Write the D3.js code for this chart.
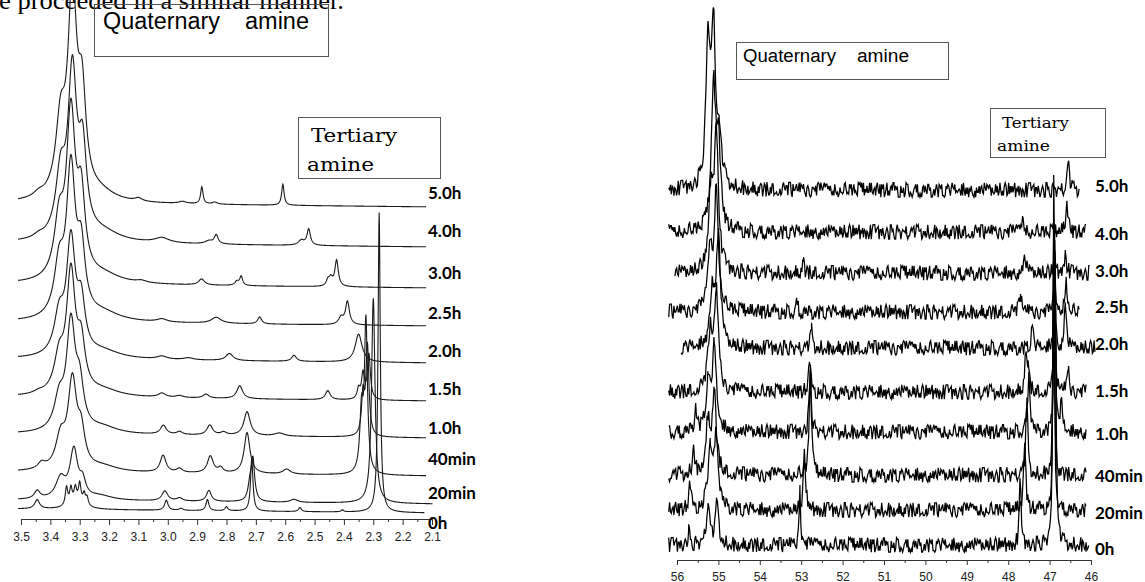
<!DOCTYPE html>
<html>
<head>
<meta charset="utf-8">
<script src="https://cdn.jsdelivr.net/npm/d3@7/dist/d3.min.js"></script>
<style>
  body { margin: 0; background: #fff; }
  svg { display: block; }
</style>
</head>
<body>
<svg id="chart" width="1145" height="582"></svg>
<script>
// ---- data ----
let timeLabels = ["5.0h", "4.0h", "3.0h", "2.5h", "2.0h", "1.5h", "1.0h", "40min", "20min", "0h"];

// 1H spectra (left), ppm axis
let hTicks = [3.5, 3.4, 3.3, 3.2, 3.1, 3.0, 2.9, 2.8, 2.7, 2.6, 2.5, 2.4, 2.3, 2.2, 2.1];
let hOffsets = [306, 266, 225, 187, 150, 112, 75, 37, 9, 0];   // stacking, intensity units
let hEnds = [2.12, 2.12, 2.12, 2.12, 2.12, 2.12, 2.12, 2.12, 2.098, 2.126];
// peaks per trace: [ppm, height, half width]
let hPeaks = [
  [[3.325, 200, 0.018], [3.365, 70, 0.02], [3.292, 90, 0.016], [3.23, 8, 0.06], [3.44, 4, 0.02], [3.10, 3, 0.015],
   [2.95, 2, 0.015], [2.884, 17, 0.005], [2.84, 2, 0.01], [2.608, 21, 0.005]],
  [[3.325, 160, 0.018], [3.365, 60, 0.02], [3.29, 80, 0.016], [3.22, 9, 0.07], [3.44, 3, 0.02], [3.02, 5, 0.03],
   [2.835, 9, 0.008], [2.86, 3, 0.015], [2.52, 16, 0.007], [2.545, 5, 0.012]],
  [[3.33, 160, 0.018], [3.37, 55, 0.02], [3.295, 75, 0.016], [3.22, 8, 0.07], [3.09, 2, 0.02], [2.885, 6, 0.012],
   [2.75, 9, 0.006], [2.765, 4, 0.008], [2.425, 26, 0.007], [2.445, 8, 0.008], [2.455, 5, 0.006]],
  [[3.33, 145, 0.018], [3.37, 50, 0.02], [3.295, 62, 0.016], [3.22, 8, 0.07], [3.02, 3, 0.02], [2.835, 6, 0.02],
   [2.687, 7, 0.008], [2.388, 23, 0.008], [2.41, 7, 0.01]],
  [[3.33, 112, 0.018], [3.37, 38, 0.02], [3.295, 48, 0.016], [3.22, 7, 0.07], [3.02, 3, 0.02], [2.93, 2, 0.02],
   [2.79, 7, 0.015], [2.57, 6, 0.01], [2.35, 28, 0.014]],
  [[3.33, 118, 0.018], [3.37, 34, 0.02], [3.295, 45, 0.016], [3.22, 6, 0.07], [3.44, 2, 0.02], [3.02, 4, 0.015],
   [2.96, 2, 0.015], [2.87, 4, 0.012], [2.755, 13, 0.012], [2.455, 9, 0.01], [2.315, 45, 0.006], [2.335, 25, 0.006],
   [2.35, 10, 0.006]],
  [[3.33, 105, 0.018], [3.37, 30, 0.02], [3.30, 40, 0.016], [3.22, 6, 0.06], [3.015, 9, 0.012], [2.96, 3, 0.012],
   [2.857, 10, 0.012], [2.81, 3, 0.012], [2.73, 24, 0.013], [2.62, 3, 0.02], [2.32, 90, 0.006], [2.335, 40, 0.006]],
  [[3.325, 86, 0.018], [3.365, 30, 0.02], [3.295, 32, 0.015], [3.43, 6, 0.015], [3.22, 5, 0.06], [3.016, 17, 0.012],
   [2.96, 4, 0.012], [2.855, 17, 0.012], [2.82, 5, 0.01], [2.73, 41, 0.012], [2.595, 5, 0.015], [2.325, 150, 0.006],
   [2.34, 60, 0.007]],
  [[3.32, 48, 0.016], [3.365, 20, 0.02], [3.29, 15, 0.012], [3.445, 8, 0.012], [3.23, 4, 0.05], [3.01, 10, 0.012],
   [2.96, 3, 0.012], [2.86, 11, 0.01], [2.71, 40, 0.007], [2.72, 15, 0.008], [2.57, 3, 0.015], [2.30, 205, 0.007]],
  [[3.445, 9, 0.01], [3.31, 8, 0.03], [3.345, 18, 0.005], [3.33, 15, 0.005], [3.315, 13, 0.005], [3.30, 18, 0.005],
   [3.285, 10, 0.005], [3.275, 8, 0.005], [3.005, 10, 0.007], [2.955, 2, 0.008], [2.865, 11, 0.006], [2.80, 4, 0.006],
   [2.714, 52, 0.005], [2.55, 4, 0.006], [2.405, 2, 0.005], [2.28, 300, 0.0045]]
];

// 13C spectra (right), ppm axis
let cTicks = [56, 55, 54, 53, 52, 51, 50, 49, 48, 47, 46];
let cOffsets = [355, 313, 272, 233, 197, 153, 113, 70, 35, 0];
let cStarts = [56.2, 56.2, 56.05, 56.2, 55.9, 56.2, 56.2, 56.2, 56.2, 56.2];
let cEnds = [46.27, 46.1, 46.03, 46.27, 45.9, 46.1, 46.1, 46.1, 46.1, 46.05];
let cPeaks = [
  [[55.25, 140, 0.06], [55.12, 150, 0.06], [54.98, 40, 0.07], [46.55, 28, 0.03]],
  [[55.12, 140, 0.06], [55.0, 85, 0.06], [47.64, 14, 0.03], [46.58, 29, 0.03]],
  [[55.05, 138, 0.06], [55.18, 75, 0.06], [47.6, 15, 0.04], [52.95, 11, 0.03], [46.62, 22, 0.03], [46.88, 20, 0.02]],
  [[55.05, 120, 0.06], [55.2, 56, 0.06], [53.1, 10, 0.03], [47.7, 18, 0.03], [46.6, 35, 0.03], [46.88, 40, 0.02]],
  [[55.0, 110, 0.06], [55.15, 56, 0.06], [52.75, 18, 0.03], [47.42, 22, 0.03], [46.88, 90, 0.02], [46.62, 45, 0.03]],
  [[55.05, 96, 0.06], [55.2, 56, 0.06], [52.8, 30, 0.03], [47.58, 32, 0.03], [47.52, 25, 0.03], [46.88, 150, 0.02],
   [46.55, 22, 0.03]],
  [[55.1, 82, 0.06], [55.25, 46, 0.06], [55.55, 25, 0.03], [52.78, 60, 0.03], [47.5, 60, 0.035], [46.88, 200, 0.02],
   [46.72, 29, 0.03]],
  [[55.1, 78, 0.06], [55.25, 50, 0.06], [55.6, 28, 0.03], [52.78, 110, 0.03], [47.55, 72, 0.03], [46.9, 250, 0.02]],
  [[55.05, 72, 0.06], [55.2, 62, 0.06], [55.69, 25, 0.03], [52.92, 58, 0.03], [47.6, 67, 0.03], [46.9, 290, 0.02]],
  [[55.25, 40, 0.05], [55.03, 42, 0.045], [55.72, 13, 0.03], [53.03, 60, 0.02], [47.71, 63, 0.025], [46.9, 330, 0.02],
   [46.86, 200, 0.02]]
];
// baseline noise of the 13C traces (digits, read as a shape table)
let cNoise = "5283917460381570294671503928642968157034840362719517592840366290471835304781596295160384720638245197" +
             "4871592603239608175470549163281637250849891247306552706489313685109427042937581691487632506573092184" +
             "2805619347731984652049620317581087524693563419780292517083463406852917872046315901935827466847915032" +
             "1578240369392605748176013895242438176950908524361757129604380364871295823951470646570291831920637845";

// ---- layout ----
let hLabelY = [192, 230, 272, 312, 350, 388, 427, 458, 492, 522];
let cLabelY = [185, 233, 270, 306, 343, 390, 433, 475, 512, 548];

const svg = d3.select("#chart");

let xH = d3.scaleLinear().domain([3.5, 2.1]).range([21, 432]);
let yH = d3.scaleLinear().domain([0, 500]).range([513, 13]);
let xC = d3.scaleLinear().domain([56, 46]).range([677, 1091]);
let yC = d3.scaleLinear().domain([0, 500]).range([545, 45]);

let lorentz = function(x, p) {
  let d = x - p[0];
  return p[1] * p[2] * p[2] / (p[2] * p[2] + d * d);
};

// stray line of document text at the top
svg.append("text")
  .attr("x", -1).attr("y", 9)
  .attr("textLength", 345).attr("lengthAdjust", "spacingAndGlyphs")
  .style("font-family", "'Liberation Serif', serif")
  .style("font-size", "26px")
  .text("e proceeded in a similar manner.");

// ---- left: 1H traces ----
let lineH = d3.line().x(d => xH(d[0])).y(d => yH(d[1]));
let gH = svg.append("g").attr("id", "traces-h");
hPeaks.forEach(function(peaks, i) {
  let pts = [];
  for (let x = 3.51; x >= hEnds[i]; x -= 0.001) {
    let v = hOffsets[i] + 4 * (x - 2.1) / 1.4;
    peaks.forEach(p => { v += lorentz(x, p); });
    pts.push([x, v]);
  }
  gH.append("path")
    .attr("d", lineH(pts))
    .attr("fill", "none")
    .attr("stroke", "#1a1a1a")
    .attr("stroke-width", 1.1);
});

// ---- right: 13C traces ----
let lineC = d3.line().x(d => xC(d[0])).y(d => yC(d[1]));
let gC = svg.append("g").attr("id", "traces-c");
cPeaks.forEach(function(peaks, i) {
  let xs = [];
  for (let x = cStarts[i]; x >= cEnds[i]; x -= 0.021) xs.push([x, true]);
  peaks.forEach(p => { if (p[0] <= cStarts[i] && p[0] >= cEnds[i]) xs.push([p[0], false]); });
  xs.sort((a, b) => b[0] - a[0]);
  let k = 0;
  let pts = xs.map(function(e) {
    let n = 0;
    if (e[1]) {
      n = (+cNoise[(k * 7 + i * 53) % cNoise.length] - 4.5) * 1.6;
      k++;
    }
    let v = cOffsets[i] + n;
    peaks.forEach(p => { v += lorentz(e[0], p); });
    return [e[0], v];
  });
  gC.append("path")
    .attr("d", lineC(pts))
    .attr("fill", "none")
    .attr("stroke", "#000")
    .attr("stroke-width", 1.25);
});

// ---- axes ----
let minorH = d3.range(3.45, 2.1, -0.1);
let axH = svg.append("g").attr("transform", "translate(0,519)");
axH.call(d3.axisBottom(xH).tickValues(hTicks).tickFormat(d3.format(".1f")).tickSize(6).tickSizeOuter(0));
axH.append("g").call(d3.axisBottom(xH).tickValues(minorH).tickFormat("").tickSize(3).tickSizeOuter(0))
  .select(".domain").remove();

let minorC = d3.range(55.5, 46, -1);
let axC = svg.append("g").attr("transform", "translate(0,560)");
axC.call(d3.axisBottom(xC).tickValues(cTicks).tickFormat(d3.format("d")).tickSize(5).tickSizeOuter(0));
axC.append("g").call(d3.axisBottom(xC).tickValues(minorC).tickFormat("").tickSize(3).tickSizeOuter(0))
  .select(".domain").remove();

svg.selectAll(".tick text")
  .attr("dy", "1.05em")
  .style("font-family", "'Liberation Sans Narrow', 'Liberation Sans', Arial, sans-serif")
  .style("font-size", "12px")
  .attr("fill", "#222");
svg.selectAll(".domain, .tick line").attr("stroke", "#333");

// ---- time labels ----
svg.append("g").selectAll("text").data(timeLabels).enter().append("text")
  .attr("x", 428).attr("y", (d, i) => hLabelY[i])
  .attr("dominant-baseline", "central")
  .style("font-family", "Lato, 'Open Sans', sans-serif")
  .style("font-weight", "bold").style("font-size", "17px")
  .text(d => d);
svg.append("g").selectAll("text").data(timeLabels).enter().append("text")
  .attr("x", 1095).attr("y", (d, i) => cLabelY[i])
  .attr("dominant-baseline", "central")
  .style("font-family", "Lato, 'Open Sans', sans-serif")
  .style("font-weight", "bold").style("font-size", "17px")
  .text(d => d);

// ---- annotation boxes ----
let box = function(x, y, w, h) {
  svg.append("rect").attr("x", x).attr("y", y).attr("width", w).attr("height", h)
    .attr("fill", "none").attr("stroke", "#555").attr("stroke-width", 1);
};
let sansText = function(x, y, size, len, s) {
  svg.append("text").attr("x", x).attr("y", y)
    .attr("textLength", len).attr("lengthAdjust", "spacingAndGlyphs")
    .style("font-family", "'Liberation Sans', Arial, sans-serif").style("font-size", size + "px")
    .text(s);
};
let serifText = function(x, y, size, len, s) {
  svg.append("text").attr("x", x).attr("y", y)
    .attr("textLength", len).attr("lengthAdjust", "spacingAndGlyphs")
    .style("font-family", "'DejaVu Serif', serif").style("font-size", size + "px")
    .text(s);
};

box(94.5, 4.5, 234, 52);
sansText(103, 29, 23, 117, "Quaternary");
sansText(245, 29, 23, 64, "amine");
box(298.5, 117.5, 142, 61);
serifText(311, 142, 19, 86, "Tertiary");
serifText(307, 171, 19, 67, "amine");

box(736.5, 42.5, 212, 37);
sansText(743, 62, 18, 93, "Quaternary");
sansText(857, 62, 18, 52, "amine");
box(990.5, 108.5, 115, 49);
serifText(1002, 128, 15, 67, "Tertiary");
serifText(997, 151, 15, 53, "amine");
</script>
</body>
</html>
